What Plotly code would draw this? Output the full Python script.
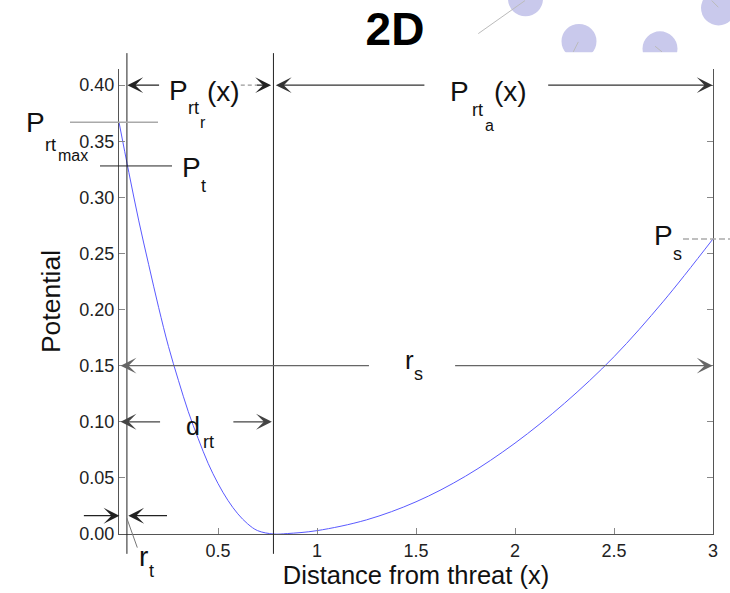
import plotly.graph_objects as go

# ---- data ----
distance = [0.0, 0.05, 0.10, 0.15, 0.20, 0.25, 0.30, 0.35, 0.40, 0.45, 0.50, 0.55, 0.60, 0.65,
            0.70, 0.78, 0.85, 1.0, 1.25, 1.5, 1.75, 2.0, 2.25, 2.5, 2.75, 3.0]
potential = [0.367, 0.322, 0.279, 0.240, 0.202, 0.167, 0.137, 0.109, 0.085, 0.063, 0.045, 0.030,
             0.018, 0.009, 0.003, 0.0, 0.0004, 0.003, 0.0126, 0.0287, 0.0515, 0.081, 0.1165,
             0.158, 0.2075, 0.263]

x_ticks = [0.5, 1, 1.5, 2, 2.5, 3]
x_tick_labels = ["0.5", "1", "1.5", "2", "2.5", "3"]
y_ticks = [0.0, 0.05, 0.10, 0.15, 0.20, 0.25, 0.30, 0.35, 0.40]
y_tick_labels = ["0.00", "0.05", "0.10", "0.15", "0.20", "0.25", "0.30", "0.35", "0.40"]

R_T = 0.04        # threat radius
D_RT = 0.78       # repulsive distance
R_S = 3.0         # sensing radius
P_RT_MAX = 0.367
P_T = 0.328
P_S = 0.263
ARROW_Y_TOP = 0.40
ARROW_Y_RS = 0.15
ARROW_Y_DRT = 0.10
ARROW_Y_RT = 0.0163

X_RANGE = [0, 3]
Y_RANGE = [0, 0.4144]

W, H = 730, 593
ML, MR, MT, MB = 119, 17, 69, 55
PW, PH = W - ML - MR, H - MT - MB

FONT = "Arial, Liberation Sans, sans-serif"


def px(x):
    return (x - ML) / PW


def py(y):
    return (H - MB - y) / PH


fig = go.Figure()
fig.add_trace(go.Scatter(x=distance, y=potential, mode="lines", line_shape="spline",
                         line=dict(color="#5a5aff", width=1, smoothing=1.0), showlegend=False,
                         hoverinfo="skip"))

annotations = []
shapes = []


def label(left, baseline, text, size):
    annotations.append(dict(
        xref="paper", yref="paper", x=px(left), y=py(baseline - 0.3465 * size),
        xanchor="left", yanchor="middle", text=text,
        showarrow=False, borderpad=0,
        font=dict(family=FONT, size=size, color="#111")))


def arrow(hx, hy, tx, ty, color="#222", head=True):
    annotations.append(dict(
        xref="x", yref="y", axref="x", ayref="y", x=hx, y=hy, ax=tx, ay=ty,
        text="", showarrow=True, arrowhead=3 if head else 0, arrowsize=2.2,
        arrowwidth=1.2, arrowcolor=color, standoff=0))


# vertical markers (r_t and d_rt)
for xv in (R_T, D_RT):
    shapes.append(dict(type="line", xref="x", yref="paper", x0=xv, x1=xv,
                       y0=py(558), y1=py(53), line=dict(color="#222", width=1)))

# horizontal value markers
shapes.append(dict(type="line", xref="paper", yref="y", x0=px(70), x1=px(158),
                   y0=P_RT_MAX, y1=P_RT_MAX, line=dict(color="#aaa", width=1.5)))
shapes.append(dict(type="line", xref="paper", yref="y", x0=px(100), x1=px(172),
                   y0=P_T, y1=P_T, line=dict(color="#222", width=1)))
shapes.append(dict(type="line", xref="paper", yref="y", x0=px(683), x1=px(730),
                   y0=P_S, y1=P_S, line=dict(color="#aaa", width=1.5, dash="6px,3px")))

# top arrows
arrow(R_T + 0.002, ARROW_Y_TOP, 0.21, ARROW_Y_TOP)
shapes.append(dict(type="line", xref="x", yref="y", x0=0.615, x1=0.70,
                   y0=ARROW_Y_TOP, y1=ARROW_Y_TOP, line=dict(color="#999", width=1.2, dash="4px,3px")))
arrow(D_RT - 0.012, ARROW_Y_TOP, 0.69, ARROW_Y_TOP)
arrow(D_RT + 0.012, ARROW_Y_TOP, 1.55, ARROW_Y_TOP, color="#333")
arrow(R_S - 0.002, ARROW_Y_TOP, 2.16, ARROW_Y_TOP, color="#333")

# r_s arrows
arrow(0.008, ARROW_Y_RS, 1.27, ARROW_Y_RS, color="#666")
arrow(R_S - 0.002, ARROW_Y_RS, 1.69, ARROW_Y_RS, color="#666")

# d_rt arrows
arrow(0.008, ARROW_Y_DRT, 0.215, ARROW_Y_DRT, color="#444")
arrow(D_RT - 0.008, ARROW_Y_DRT, 0.57, ARROW_Y_DRT, color="#444")

# r_t arrows
arrow(0.002, ARROW_Y_RT, -0.185, ARROW_Y_RT)
arrow(R_T + 0.007, ARROW_Y_RT, 0.25, ARROW_Y_RT)
shapes.append(dict(type="line", xref="paper", yref="paper", x0=px(126.7), x1=px(137.3),
                   y0=py(521.7), y1=py(551.7), line=dict(color="#777", width=1)))

# labels
label(168, 100, "P", 28); label(187, 115, "rt", 18); label(199, 128, "r", 16); label(206, 101, "(x)", 28)
label(449, 101.5, "P", 28); label(470.5, 116.5, "rt", 18); label(484, 131.5, "a", 16); label(493, 101.5, "(x)", 28)
label(25, 133, "P", 28); label(43.5, 151.5, "rt", 18); label(57, 162, "max", 16)
label(181, 178.3, "P", 28); label(199.5, 193.3, "t", 18)
label(653, 246.7, "P", 28); label(672, 261.7, "s", 18)
label(404, 371.7, "r", 26); label(413, 383.3, "s", 18)
label(185, 437.3, "d", 25); label(201.5, 451.7, "rt", 18)
label(138, 570, "r", 28); label(147.5, 581.7, "t", 18)

# decorative slide elements (top right)
CIRC = "#c9c9ec"
for cx, cy in [(579, 41), (660, 48.5), (525.5, -1.7), (718.5, 7.5)]:
    r = 17.5
    shapes.append(dict(type="circle", xref="paper", yref="paper",
                       x0=px(cx - r), x1=px(cx + r), y0=py(cy + r), y1=py(cy - r),
                       fillcolor=CIRC, line=dict(width=0), layer="below"))
shapes.append(dict(type="rect", xref="paper", yref="paper", x0=px(540), x1=px(700),
                   y0=py(67), y1=py(52), fillcolor="white", line=dict(width=0), layer="below"))
for (x0, y0, x1, y1) in [(478.3, 33.3, 525, 0), (578.3, 41.7, 573.3, 51.7),
                         (711.7, 0, 718.3, 6.7), (655, 46, 662, 51.7)]:
    shapes.append(dict(type="line", xref="paper", yref="paper", x0=px(x0), x1=px(x1),
                       y0=py(y0), y1=py(y1), line=dict(color="#bbb", width=1)))

axis_common = dict(showgrid=False, zeroline=False, ticks="inside", ticklen=6,
                   tickcolor="#888", tickwidth=1, showline=True, linecolor="#555",
                   linewidth=1.3, tickfont=dict(family=FONT, size=18, color="#222"))

fig.update_layout(
    width=W, height=H, margin=dict(l=ML, r=MR, t=MT, b=MB),
    paper_bgcolor="white", plot_bgcolor="white",
    title=dict(text="<b>2D</b>", x=395 / W, xanchor="center", xref="container",
               y=1 - 28.5 / H, yanchor="middle", yref="container",
               font=dict(family=FONT, size=46, color="#000")),
    xaxis=dict(range=X_RANGE, tickvals=x_ticks, ticktext=x_tick_labels,
               title=dict(text="Distance from threat (x)", standoff=2,
                          font=dict(family=FONT, size=25.5, color="#111")),
               **axis_common),
    xaxis2=dict(range=X_RANGE, overlaying="x", side="top", matches="x",
                showticklabels=False, showgrid=False, zeroline=False, ticks="inside",
                ticklen=6, tickcolor="#999", tickvals=x_ticks, showline=True,
                linecolor="#bbb", linewidth=1.5),
    yaxis=dict(range=Y_RANGE, tickvals=y_ticks, ticktext=y_tick_labels, mirror="ticks",
               title=dict(text="Potential", standoff=10,
                          font=dict(family=FONT, size=26.5, color="#111")),
               **axis_common),
    shapes=shapes,
    annotations=annotations,
)

fig.write_html("out.html")
